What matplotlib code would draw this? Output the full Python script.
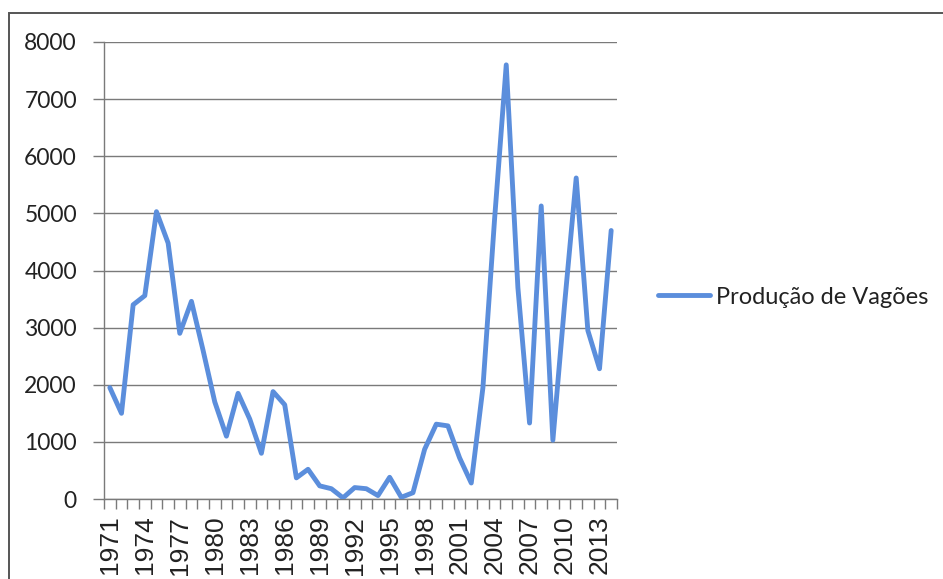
import matplotlib
matplotlib.use("Agg")
import matplotlib.pyplot as plt
from matplotlib.patches import Rectangle
from matplotlib.ticker import FixedLocator, NullFormatter

# Production of railway wagons per year
years = list(range(1971, 2015))
wagons = [1950, 1500, 3400, 3560, 5030, 4480, 2900, 3460, 2600, 1700,
          1100, 1850, 1400, 800, 1880, 1650, 370, 520, 230, 180,
          20, 200, 180, 60, 380, 30, 110, 870, 1310, 1280,
          720, 280, 1950, 4900, 7600, 3700, 1330, 5130, 1030, 3400,
          5620, 2950, 2280, 4700]
series_name = "Produção de Vagões"
y_ticks = [0, 1000, 2000, 3000, 4000, 5000, 6000, 7000, 8000]

W, H, DPI = 943, 579, 100
fig = plt.figure(figsize=(W / DPI, H / DPI), dpi=DPI)
fig.patch.set_facecolor("white")

# chart-area frame
fig.patches.append(Rectangle((9 / W, -0.2), 1.2, 1 - 13 / H + 0.2,
                             transform=fig.transFigure, fill=False,
                             edgecolor="#555555", linewidth=1.4, zorder=0))

ax = fig.add_axes([104 / W, 1 - 499 / H, (617 - 104) / W, (499 - 42) / H])

x = list(range(len(years)))
line, = ax.plot(x, wagons, color="#5B8EDC", linewidth=3.5,
                solid_joinstyle="round", solid_capstyle="round",
                label=series_name, zorder=3)

ax.set_xlim(-0.5, len(years) - 0.5)
ax.set_ylim(0, 8000)

# y axis
ax.set_yticks(y_ticks)
ax.set_yticklabels([str(v) for v in y_ticks], fontfamily="Lato", fontsize=16.5,
                   color="#222222")
ax.yaxis.grid(True, color="#7a7a7a", linewidth=1.0)
ax.set_axisbelow(True)
ax.tick_params(axis="y", direction="out", length=8, width=1.0,
               color="#7a7a7a", pad=11.5)

# x axis: tick marks between categories, labels every third year
label_idx = list(range(0, len(years), 3))
ax.xaxis.set_major_locator(FixedLocator(label_idx))
ax.set_xticklabels([str(years[i]) for i in label_idx], rotation=90,
                   fontfamily="Liberation Sans", fontsize=19, color="#222222")
ax.tick_params(axis="x", which="major", length=0, pad=12)
ax.xaxis.set_minor_locator(FixedLocator([i - 0.5 for i in range(len(years) + 1)]))
ax.xaxis.set_minor_formatter(NullFormatter())
ax.tick_params(axis="x", which="minor", direction="out", length=7, width=1.0,
               color="#7a7a7a")

for side in ("top", "right"):
    ax.spines[side].set_visible(False)
ax.spines["left"].set_color("#7a7a7a")
ax.spines["bottom"].set_color("#7a7a7a")
ax.spines["left"].set_linewidth(1.0)
ax.spines["bottom"].set_linewidth(1.0)

leg = fig.legend(handles=[line], loc="center left",
                 bbox_to_anchor=(637 / W, 1 - 297 / H), frameon=False,
                 prop={"family": "Lato", "size": 17}, handlelength=2.2,
                 handletextpad=0.25)
for t in leg.get_texts():
    t.set_color("#222222")

fig.savefig("out.png", dpi=DPI, facecolor="white")
